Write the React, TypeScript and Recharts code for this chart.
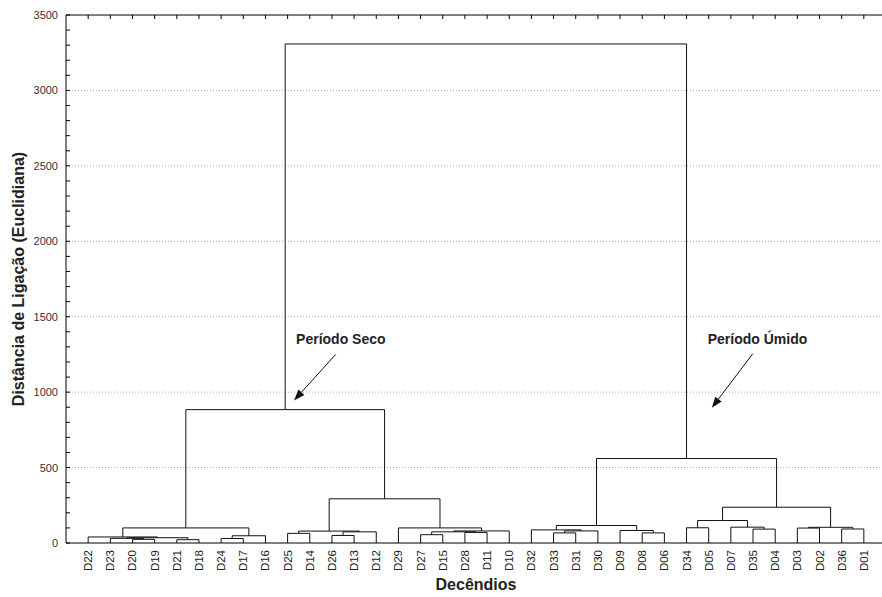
import {
  CartesianGrid,
  ComposedChart,
  Line,
  ReferenceDot,
  ReferenceLine,
  XAxis,
  YAxis,
} from "recharts";

// leaf order along the x axis
const leaves = [
  "D22", "D23", "D20", "D19", "D21", "D18", "D24", "D17", "D16",
  "D25", "D14", "D26", "D13", "D12", "D29", "D27", "D15", "D28", "D11", "D10",
  "D32", "D33", "D31", "D30", "D09", "D08", "D06",
  "D34", "D05", "D07", "D35", "D04", "D03", "D02", "D36", "D01",
];

// linkage: [left, right, height]; a number points to an earlier merge
const merges: [string | number, string | number, number][] = [
  ["D20", "D19", 24], // 0
  ["D23", 0, 31], // 1
  ["D21", "D18", 22], // 2
  [1, 2, 35], // 3
  ["D22", 3, 40], // 4
  ["D24", "D17", 30], // 5
  [5, "D16", 48], // 6
  [4, 6, 100], // 7
  ["D25", "D14", 64], // 8
  ["D26", "D13", 50], // 9
  [9, "D12", 74], // 10
  [8, 10, 79], // 11
  ["D27", "D15", 55], // 12
  ["D28", "D11", 70], // 13
  [12, 13, 74], // 14
  [14, "D10", 80], // 15
  ["D29", 15, 100], // 16
  [11, 16, 293], // 17
  [7, 17, 884], // 18
  ["D33", "D31", 67], // 19
  [19, "D30", 80], // 20
  ["D32", 20, 87], // 21
  ["D08", "D06", 67], // 22
  ["D09", 22, 83], // 23
  [21, 23, 116], // 24
  ["D34", "D05", 101], // 25
  ["D35", "D04", 92], // 26
  ["D07", 26, 105], // 27
  [25, 27, 149], // 28
  ["D03", "D02", 99], // 29
  ["D36", "D01", 93], // 30
  [29, 30, 104], // 31
  [28, 31, 237], // 32
  [24, 32, 560], // 33
  [18, 33, 3308], // 34
];

const gridValues = [500, 1000, 1500, 2000, 2500, 3000];
const yTicks = Array.from({ length: 36 }, (_, i) => i * 100);
const leafTicks = leaves.map((_, i) => i + 1);

const notes = [
  { text: "Período Seco", x: 12.4, y: 1322, from: { x: 12.17, y: 1250 }, to: { x: 10.29, y: 945 } },
  { text: "Período Úmido", x: 31.2, y: 1322, from: { x: 30.99, y: 1255 }, to: { x: 29.14, y: 896 } },
];

const FONT = "'Liberation Sans', Arial, sans-serif";

const nodes: { x: number; h: number }[] = [];
const getNode = (ref: string | number) =>
  typeof ref === "string" ? { x: leaves.indexOf(ref) + 1, h: 0 } : nodes[ref];

const links = merges.map(([a, b, h]) => {
  const l = getNode(a);
  const r = getNode(b);
  nodes.push({ x: (l.x + r.x) / 2, h });
  return [
    { x: l.x, y: l.h },
    { x: l.x, y: h },
    { x: r.x, y: h },
    { x: r.x, y: r.h },
  ];
});

const LeafTick = ({ x, y, payload }: any) => (
  <text
    x={x}
    y={y}
    dx={-7}
    dy={4}
    transform={`rotate(-90, ${x}, ${y})`}
    textAnchor="end"
    fontSize={11.5}
    fontFamily={FONT}
    fill="#222"
  >
    {leaves[payload.value - 1]}
  </text>
);

// inward minor tick every 100, label every 500
const ValueTick = ({ x, y, payload }: any) => {
  const ax = x + 8;
  return (
    <g>
      <line x1={ax} y1={y} x2={ax + 4} y2={y} stroke="#000" />
      {payload.value % 500 === 0 && (
        <text x={x} y={y} dy={4} textAnchor="end" fontSize={11} fontFamily={FONT} fill="#333">
          {payload.value}
        </text>
      )}
    </g>
  );
};

const TopTick = ({ x1, y1, y2 }: any) => {
  const top = Math.min(y1, y2);
  return <line x1={x1} y1={top} x2={x1} y2={top + 4} stroke="#000" />;
};

const Arrow = ({ x1, y1, x2, y2 }: any) => {
  const dx = x2 - x1;
  const dy = y2 - y1;
  const len = Math.sqrt(dx * dx + dy * dy);
  const ux = dx / len;
  const uy = dy / len;
  const bx = x2 - ux * 11;
  const by = y2 - uy * 11;
  return (
    <g>
      <line x1={x1} y1={y1} x2={bx} y2={by} stroke="#111" strokeWidth={1} />
      <polygon
        points={`${x2},${y2} ${bx - uy * 4},${by + ux * 4} ${bx + uy * 4},${by - ux * 4}`}
        fill="#111"
      />
    </g>
  );
};

export default function App() {
  return (
    <div style={{ position: "absolute", left: 0, top: 0, width: 882, height: 597, overflow: "hidden", background: "#fff" }}>
      <ComposedChart width={900} height={597} margin={{ top: 15, right: 14, bottom: 0, left: 0 }}>
        <CartesianGrid
          vertical={false}
          horizontalValues={gridValues}
          stroke="#aaa"
          strokeDasharray="1 2"
        />
        <XAxis
          dataKey="x"
          type="number"
          domain={[0, 37]}
          ticks={leafTicks}
          interval={0}
          height={54}
          tickLine={false}
          tickSize={0}
          tickMargin={0}
          axisLine={{ stroke: "#000" }}
          tick={<LeafTick />}
          label={{
            content: ({ viewBox }: any) => (
              <text
                x={viewBox.x + viewBox.width / 2}
                y={viewBox.y + 47}
                textAnchor="middle"
                fontSize={16}
                fontWeight="bold"
                fontFamily={FONT}
                fill="#222"
              >
                Decêndios
              </text>
            ),
          }}
        />
        <YAxis
          type="number"
          domain={[0, 3500]}
          ticks={yTicks}
          interval={0}
          width={66}
          tickLine={false}
          tickSize={0}
          tickMargin={8}
          axisLine={{ stroke: "#000" }}
          tick={<ValueTick />}
          label={{
            content: ({ viewBox }: any) => {
              const cx = 18;
              const cy = viewBox.y + viewBox.height / 2;
              return (
                <text
                  x={cx}
                  y={cy}
                  dy={6}
                  transform={`rotate(-90, ${cx}, ${cy})`}
                  textAnchor="middle"
                  fontSize={16}
                  fontWeight="bold"
                  fontFamily={FONT}
                  fill="#222"
                >
                  Distância de Ligação (Euclidiana)
                </text>
              );
            },
          }}
        />
        <ReferenceLine y={3500} stroke="#000" strokeWidth={1} />
        {leafTicks.map((t) => (
          <ReferenceLine key={`top-${t}`} x={t} shape={<TopTick />} />
        ))}
        {links.map((pts, i) => (
          <Line
            key={`link-${i}`}
            data={pts}
            dataKey="y"
            type="linear"
            stroke="#111"
            strokeWidth={1}
            dot={false}
            activeDot={false}
            isAnimationActive={false}
          />
        ))}
        {notes.map((n) => (
          <ReferenceLine
            key={`arrow-${n.text}`}
            segment={[n.from, n.to]}
            shape={<Arrow />}
          />
        ))}
        {notes.map((n) => (
          <ReferenceDot
            key={`note-${n.text}`}
            x={n.x}
            y={n.y}
            r={0}
            shape={({ cx, cy }: any) => (
              <text
                x={cx}
                y={cy}
                textAnchor="middle"
                fontSize={14}
                fontWeight="bold"
                fontFamily={FONT}
                fill="#222"
              >
                {n.text}
              </text>
            )}
          />
        ))}
      </ComposedChart>
    </div>
  );
}
